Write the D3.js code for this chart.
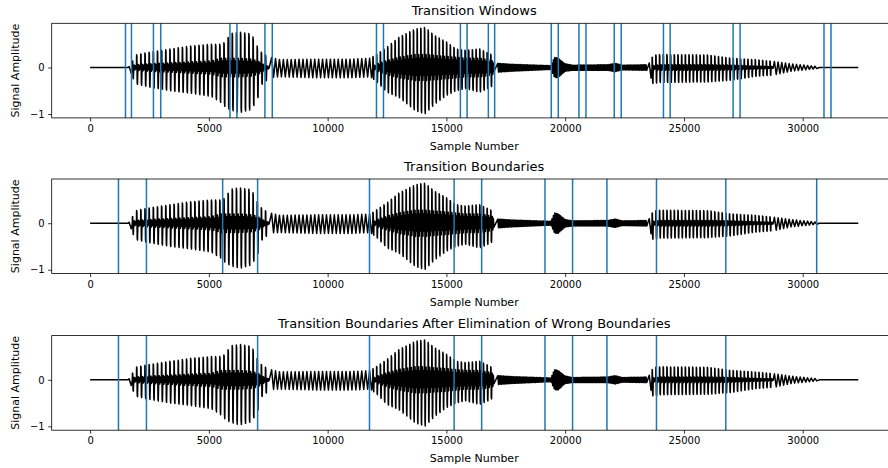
<!DOCTYPE html>
<html>
<head>
<meta charset="utf-8">
<script src="https://cdn.jsdelivr.net/npm/d3@7"></script>
<style>
	body { margin: 0; background: #fff; }
	svg { display: block; font-family: "DejaVu Sans", sans-serif; }
</style>
</head>
<body>
<div class="container"></div>
<script>

// signal envelope (sample number -> amplitude)
const envX      = [0, 1600, 1700, 1900, 2500, 3400, 4200, 5100, 5500, 5700, 5900, 6300, 6800, 7050, 7250, 7600, 8000, 9500, 11000, 11800, 12100, 12500, 13000, 13700, 14100, 14500, 15000, 15400, 15800, 16400, 16850, 17050, 17150, 17700, 19400, 19550, 19700, 20000, 20300, 21800, 22100, 22400, 23500, 23700, 24000, 26000, 27000, 28000, 28800, 29500, 30300, 30650, 30700, 32340]
const envTop    = [0, 0, 0.05, 0.27, 0.33, 0.40, 0.46, 0.50, 0.50, 0.55, 0.73, 0.76, 0.72, 0.44, 0.30, 0.22, 0.17, 0.18, 0.18, 0.20, 0.30, 0.44, 0.65, 0.83, 0.86, 0.69, 0.55, 0.40, 0.37, 0.40, 0.29, 0.20, 0.09, 0.07, 0.04, 0.22, 0.20, 0.08, 0.05, 0.06, 0.09, 0.05, 0.06, 0.26, 0.28, 0.27, 0.20, 0.17, 0.13, 0.08, 0.04, 0.02, 0, 0]
const envBottom = [0, 0, -0.08, -0.35, -0.42, -0.50, -0.55, -0.62, -0.75, -0.85, -0.91, -0.97, -0.90, -0.68, -0.35, -0.21, -0.20, -0.22, -0.22, -0.20, -0.32, -0.53, -0.64, -0.93, -0.996, -0.79, -0.60, -0.50, -0.45, -0.53, -0.43, -0.35, -0.10, -0.08, -0.04, -0.21, -0.22, -0.08, -0.06, -0.06, -0.09, -0.05, -0.06, -0.35, -0.32, -0.31, -0.27, -0.19, -0.16, -0.08, -0.04, -0.02, 0, 0]
const envCore   = [0, 0, 0.02, 0.06, 0.08, 0.10, 0.12, 0.14, 0.20, 0.20, 0.20, 0.20, 0.18, 0.15, 0.08, 0, 0, 0, 0, 0, 0.08, 0.15, 0.22, 0.28, 0.28, 0.26, 0.24, 0.22, 0.20, 0.20, 0.16, 0.12, 0, 0, 0, 0, 0, 0, 0, 0, 0, 0, 0, 0.04, 0.06, 0.06, 0.05, 0.03, 0.02, 0, 0, 0, 0, 0]

// pitch period (in samples) of each stretch of the signal
const periodX   = [1600, 7600, 11900, 17150, 23500, 30700]
const periodLen = [175, 165, 155, 60, 155]

const signalEnd = 32340

// vertical lines of each panel
const windowLines = [1489, 1741, 2666, 2973, 5887, 6182, 7359, 7670, 12056, 12350, 15589, 15870, 16766, 17031, 19415, 19710, 20580, 20875, 22065, 22359, 24138, 24420, 27069, 27363, 30896, 31190]
const boundaryLines = [1194, 2372, 5580, 7052, 11762, 15324, 16484, 19150, 20311, 21758, 23844, 26762, 30589]
const cleanedLines = [1194, 2372, 7052, 11762, 15324, 16484, 19150, 20311, 21758, 23844, 26762]

const titles = ['Transition Windows', 'Transition Boundaries', 'Transition Boundaries After Elimination of Wrong Boundaries']
const xTicks = [0, 5000, 10000, 15000, 20000, 25000, 30000]
const yTicks = [-1, 0]

const W = 888, H = 468
const left = 51.7, plotW = 845
const tops = [23.3, 179, 335.6]
const plotH = 94.6

function buildSignal() {
	let top = d3.scaleLinear().domain(envX).range(envTop)
	let bottom = d3.scaleLinear().domain(envX).range(envBottom)
	let core = d3.scaleLinear().domain(envX).range(envCore)
	let pts = [[0, 0], [periodX[0], 0]]
	for (let k = 0; k < periodLen.length; k++) {
		let p = periodLen[k]
		for (let t = periodX[k]; t + p <= periodX[k + 1]; t += p) {
			let c = core(t + p * 0.5)
			if (c > 0.02) {
				// sharp pitch pulse followed by small ringing
				pts.push([t, -c * 0.3])
				pts.push([t + p * 0.04, top(t + p * 0.04)])
				pts.push([t + p * 0.11, top(t + p * 0.11) * 0.92])
				pts.push([t + p * 0.19, bottom(t + p * 0.19) * 0.92])
				pts.push([t + p * 0.26, bottom(t + p * 0.26)])
				pts.push([t + p * 0.34, -c * 0.6])
				pts.push([t + p * 0.48, c])
				pts.push([t + p * 0.62, -c])
				pts.push([t + p * 0.76, c * 0.7])
				pts.push([t + p * 0.9, -c * 0.6])
			} else {
				pts.push([t + p * 0.25, top(t + p * 0.25)])
				pts.push([t + p * 0.75, bottom(t + p * 0.75)])
			}
		}
	}
	pts.push([periodX[periodX.length - 1], 0], [signalEnd, 0])
	return pts
}

const signal = buildSignal()

const svg = d3.select('.container')
	.append('svg')
	.attr('width', W)
	.attr('height', H)

svg.append('rect').attr('width', W).attr('height', H).attr('fill', '#fff')

const xm = signalEnd * 0.05
const x = d3.scaleLinear().domain([-xm, signalEnd + xm]).range([0, plotW])
const yMin = d3.min(signal, d => d[1]), yMax = d3.max(signal, d => d[1])
const ym = (yMax - yMin) * 0.05
const y = d3.scaleLinear().domain([yMin - ym, yMax + ym]).range([plotH, 0])

const line = d3.line().x(d => x(d[0])).y(d => y(d[1]))

const panels = [windowLines, boundaryLines, cleanedLines]

panels.forEach((lines, i) => {
	let g = svg.append('g').attr('transform', `translate(${left},${tops[i]})`)

	g.append('clipPath').attr('id', 'clip' + i)
		.append('rect').attr('width', plotW).attr('height', plotH)

	let inner = g.append('g').attr('clip-path', `url(#clip${i})`)

	inner.append('path')
		.datum(signal)
		.attr('d', line)
		.attr('fill', 'none')
		.attr('stroke', '#000')
		.attr('stroke-width', 1.5)
		.attr('stroke-linejoin', 'round')

	inner.selectAll('.vline')
		.data(lines)
		.enter()
		.append('line')
		.attr('class', 'vline')
		.attr('x1', d => x(d)).attr('x2', d => x(d))
		.attr('y1', 0).attr('y2', plotH)
		.attr('stroke', '#1f77b4')
		.attr('stroke-width', 1.5)

	let xAxis = g.append('g')
		.attr('transform', `translate(0,${plotH})`)
		.call(d3.axisBottom(x).tickValues(xTicks).tickFormat(d3.format('d')).tickSize(3.5).tickPadding(3.5).tickSizeOuter(0))
	let yAxis = g.append('g')
		.call(d3.axisLeft(y).tickValues(yTicks).tickFormat(d3.format('d')).tickSize(3.5).tickPadding(3.5).tickSizeOuter(0))

	;[xAxis, yAxis].forEach(a => {
		a.select('.domain').remove()
		a.selectAll('.tick line').attr('stroke', '#000').attr('stroke-width', 0.8)
		a.selectAll('.tick text').attr('fill', '#000').style('font-size', '10px').style('font-family', '"DejaVu Sans", sans-serif')
	})

	g.append('rect')
		.attr('width', plotW).attr('height', plotH)
		.attr('fill', 'none')
		.attr('stroke', '#000')
		.attr('stroke-width', 0.8)

	g.append('text')
		.attr('x', plotW / 2).attr('y', -8)
		.attr('text-anchor', 'middle')
		.style('font-size', '13px')
		.text(titles[i])

	g.append('text')
		.attr('x', plotW / 2).attr('y', plotH + 32.3)
		.attr('text-anchor', 'middle')
		.style('font-size', '11px')
		.text('Sample Number')

	g.append('text')
		.attr('transform', `translate(${-32.7},${plotH / 2}) rotate(-90)`)
		.attr('text-anchor', 'middle')
		.style('font-size', '11px')
		.text('Signal Amplitude')
})

</script>
</body>
</html>
